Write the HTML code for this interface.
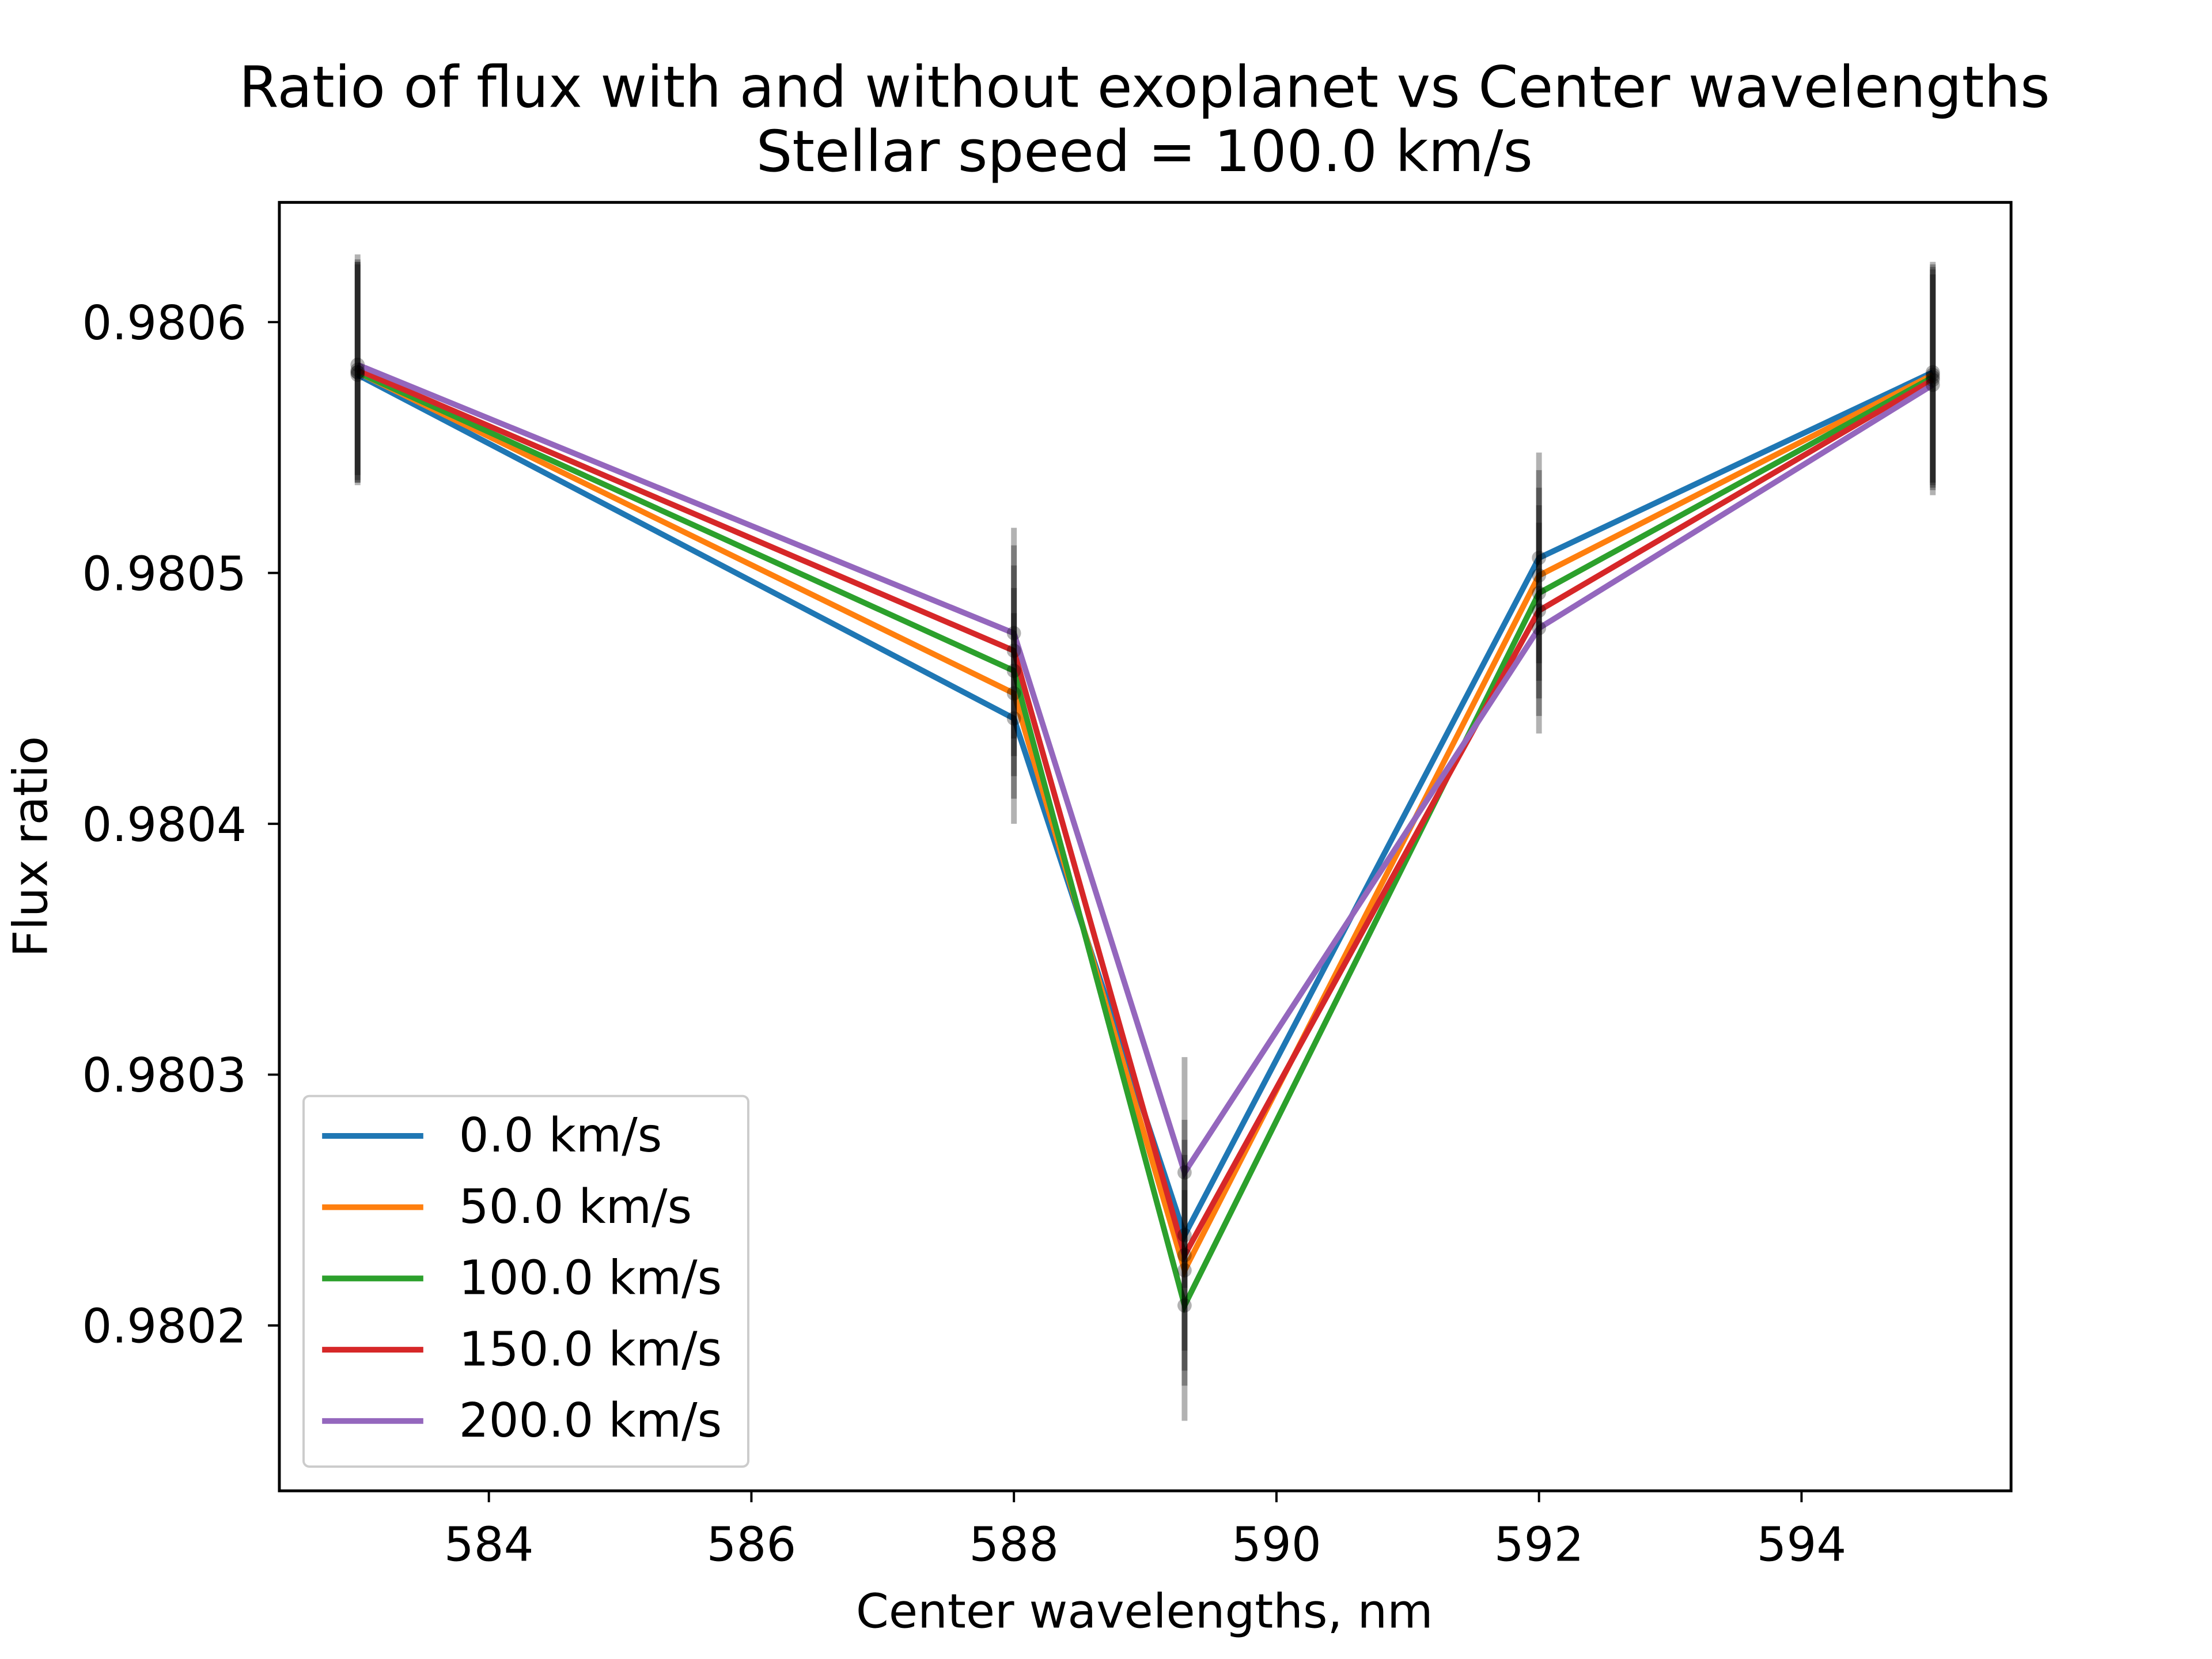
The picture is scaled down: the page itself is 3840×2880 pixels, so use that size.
<!DOCTYPE html>
<html><head><meta charset="utf-8"><style>
html,body{margin:0;padding:0;background:#fff;}
svg{display:block;font-family:"DejaVu Sans","Liberation Sans",sans-serif;}
</style></head><body>
<svg id="chart" width="3840" height="2880" viewBox="0 0 1552 1164" xmlns="http://www.w3.org/2000/svg">
<rect width="1552" height="1164" fill="#fff"/>
<text x="803" y="75" font-size="40" text-anchor="middle">Ratio of flux with and without exoplanet vs Center wavelengths</text>
<text x="803" y="120" font-size="40" text-anchor="middle">Stellar speed = 100.0 km/s</text>
<g id="plot"></g>
<rect x="196" y="142" width="1215" height="904" fill="none" stroke="#000" stroke-width="2"/>
<text x="803" y="1142" font-size="33" text-anchor="middle">Center wavelengths, nm</text>
<text transform="translate(33,594) rotate(-90)" font-size="33" text-anchor="middle">Flux ratio</text>
<g id="legend"></g>
</svg>
<script>
const wavelengths = [583, 588, 589.3, 592, 595];
const seriesNames = ["0.0 km/s","50.0 km/s","100.0 km/s","150.0 km/s","200.0 km/s"];
const s0 = [0.980579, 0.980442, 0.980236, 0.980506, 0.980580];
const s50 = [0.980580, 0.980452, 0.980222, 0.980499, 0.980579];
const s100 = [0.980580, 0.980461, 0.980208, 0.980492, 0.980578];
const s150 = [0.980581, 0.980469, 0.980228, 0.980485, 0.980577];
const s200 = [0.980583, 0.980476, 0.980261, 0.980478, 0.980575];
const errors = [0.000044, 0.000042, 0.000046, 0.000042, 0.000044];
const xTicks = [584, 586, 588, 590, 592, 594];
const yTicks = [0.9802, 0.9803, 0.9804, 0.9805, 0.9806];
const colors = ["#1f77b4","#ff7f0e","#2ca02c","#d62728","#9467bd"];
const allSeries = [s0, s50, s100, s150, s200];

const NS = "http://www.w3.org/2000/svg";
function xs(v){ return 343 + (v - 584) * (1264 - 343) / 10; }
function ys(v){ return 930 - (v - 0.9802) * (930 - 226) / 0.0004; }
function mk(tag, attrs, parent){ const e = document.createElementNS(NS, tag); for (const k in attrs) e.setAttribute(k, attrs[k]); parent.appendChild(e); return e; }
const plot = document.getElementById('plot');
const svg = document.getElementById('chart');

xTicks.forEach(t => {
  const l = mk('line', {x1: xs(t), x2: xs(t), y1: 1046, y2: 1054, stroke: '#000', 'stroke-width': 1.6}, svg);
  
  
  const tx = mk('text', {x: xs(t), y: 1095, 'font-size': 33, 'text-anchor': 'middle'}, svg);
  tx.textContent = t;
  
  
});
yTicks.forEach(t => {
  const l = mk('line', {x1: 188, x2: 196, y1: ys(t), y2: ys(t), stroke: '#000', 'stroke-width': 1.6}, svg);
  
  
  const tx = mk('text', {x: 173, y: ys(t) + 12, 'font-size': 33, 'text-anchor': 'end'}, svg);
  tx.textContent = t.toFixed(4);
  
  
});

allSeries.forEach((s, i) => {
  const pts = s.map((v, j) => xs(wavelengths[j]) + ',' + ys(v)).join(' ');
  const pl = mk('polyline', {points: pts, fill: 'none', stroke: colors[i], 'stroke-width': 4}, plot);
  
  
});
allSeries.forEach((s, i) => {
  s.forEach((v, j) => {
    const x = xs(wavelengths[j]);
    const eb = mk('line', {x1: x, x2: x, y1: ys(v + errors[j]), y2: ys(v - errors[j]), stroke: '#000', 'stroke-opacity': 0.3, 'stroke-width': 4}, plot);
    
    
    const c = mk('circle', {cx: x, cy: ys(v), r: 5, fill: '#000', 'fill-opacity': 0.3}, plot);
    
    
  });
});

const lg = document.getElementById('legend');
const box = mk('rect', {x: 213, y: 769, width: 312, height: 260, rx: 4, fill: '#fff', 'fill-opacity': 0.8, stroke: '#ccc', 'stroke-width': 1.6}, lg);


seriesNames.forEach((n, i) => {
  const y = 797 + i * 50;
  const l = mk('line', {x1: 226, x2: 297, y1: y, y2: y, stroke: colors[i], 'stroke-width': 4}, lg);
  
  
  const t = mk('text', {x: 322, y: y + 11, 'font-size': 33}, lg);
  t.textContent = n;
  
  
});
</script>
</body></html>
